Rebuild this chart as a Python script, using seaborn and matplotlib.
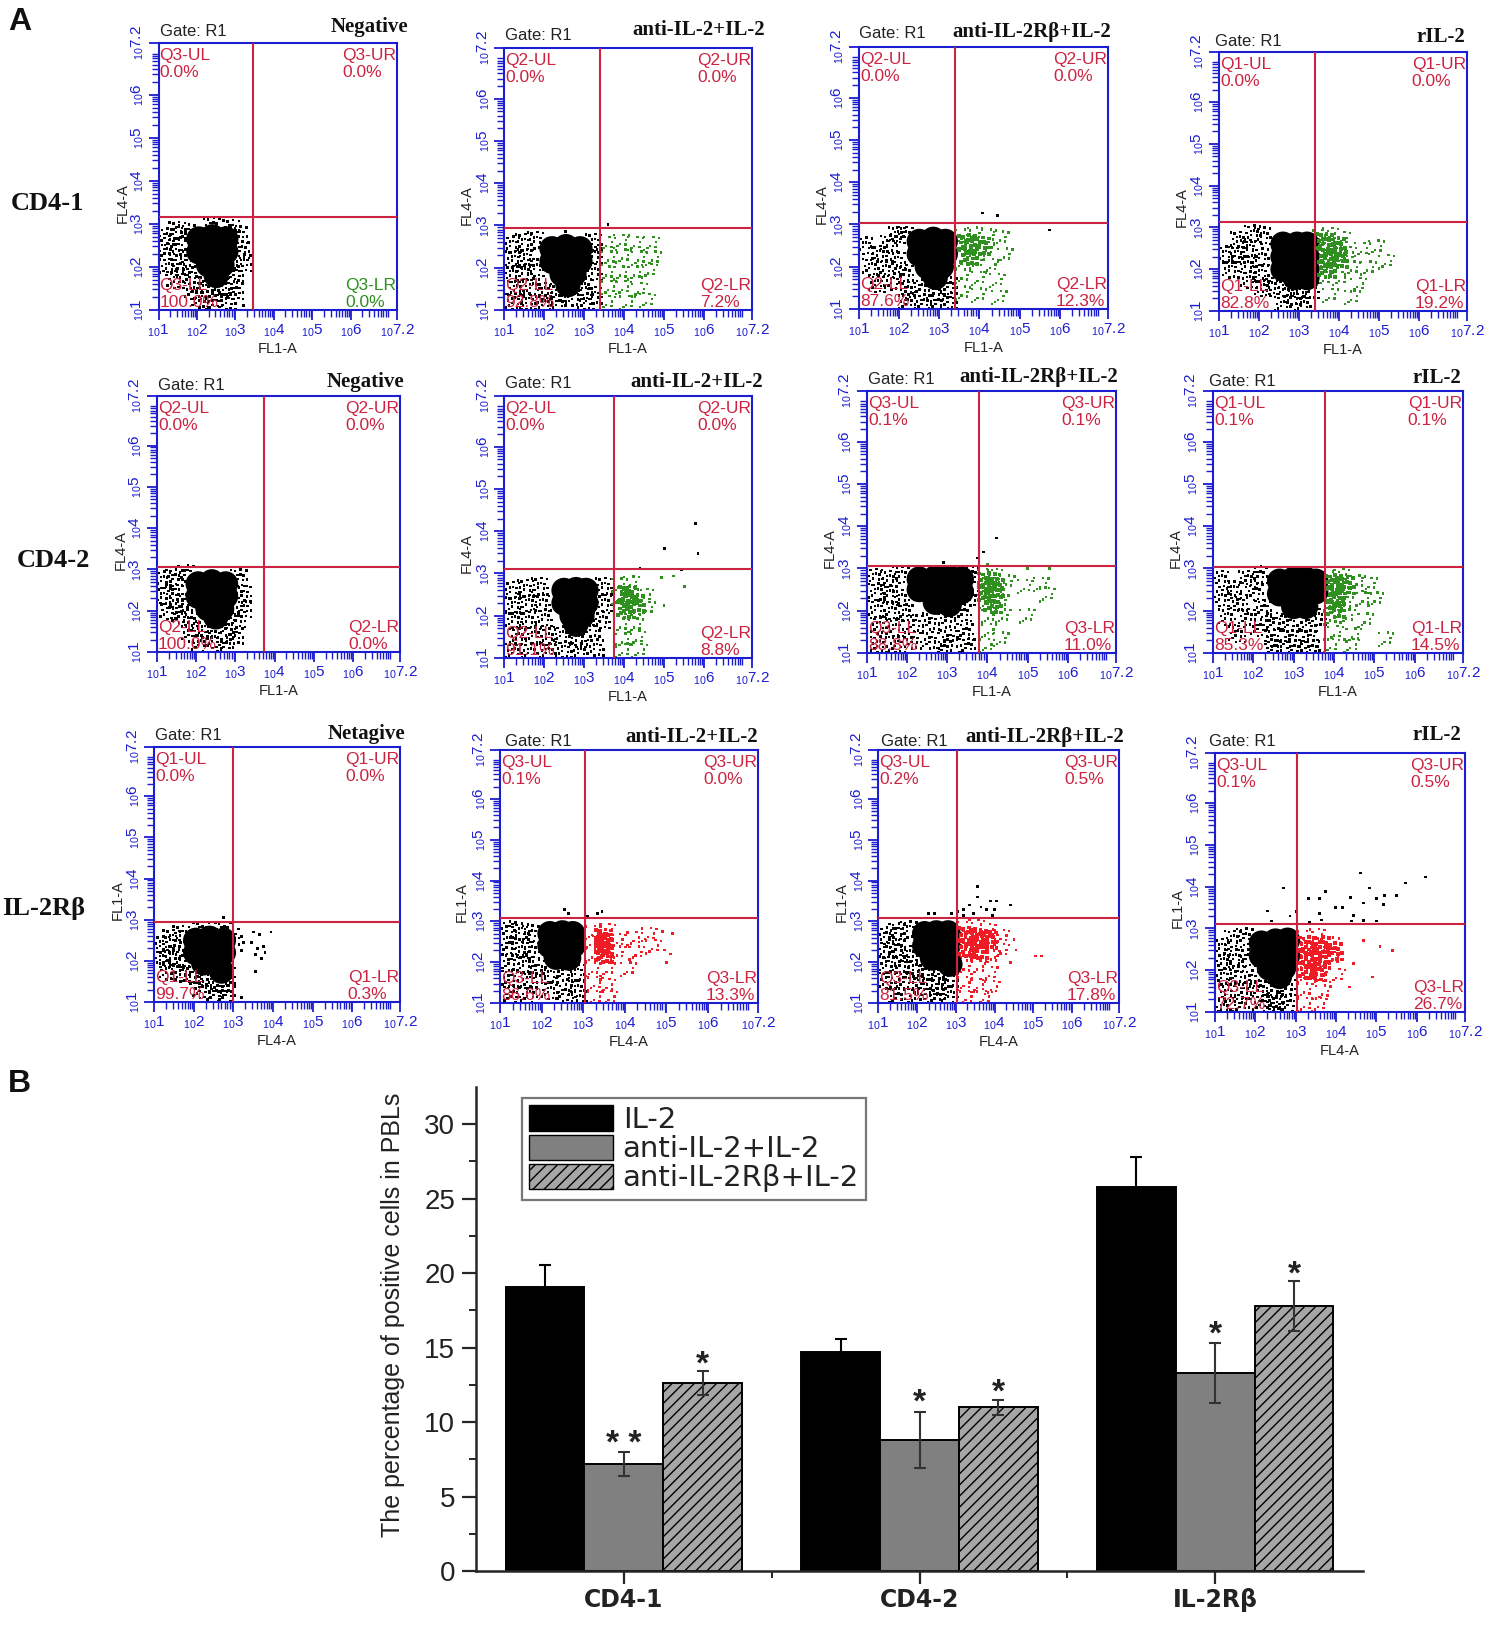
#!/usr/bin/env python3

import numpy as np
import pandas as pd
import matplotlib
matplotlib.use('Agg')
import matplotlib.pyplot as plt
import matplotlib.patches as mpatches
from matplotlib.path import Path
from matplotlib.ticker import FixedLocator, LogLocator, NullFormatter
import seaborn as sns

SET_DPI = 100
W, H = 1500, 1628

# bar chart values
GROUPS = ['CD4-1', 'CD4-2', 'IL-2Rβ']
TREATMENTS = ['IL-2', 'anti-IL-2+IL-2', 'anti-IL-2Rβ+IL-2']
IL2_VALS = [19.1, 14.7, 25.8]
ANTI_IL2_VALS = [7.2, 8.8, 13.3]
ANTI_RB_VALS = [12.6, 11.0, 17.8]
IL2_ERR = [1.45, 0.9, 2.0]
ANTI_IL2_ERR = [0.8, 1.9, 2.0]
ANTI_RB_ERR = [0.8, 0.5, 1.7]
STAR_TEXT = ['* *', '*', '*', '*', '*', '*']
STAR_Y = [8.97, 14.3, 11.7, 12.4, 16.3, 20.3]

# flow panels, row by row
TITLES = ['Negative', 'anti-IL-2+IL-2', 'anti-IL-2Rβ+IL-2', 'rIL-2'] * 2 + \
         ['Netagive', 'anti-IL-2+IL-2', 'anti-IL-2Rβ+IL-2', 'rIL-2']
QUADS = ['Q3', 'Q2', 'Q2', 'Q1', 'Q2', 'Q2', 'Q3', 'Q1', 'Q1', 'Q3', 'Q3', 'Q3']
PCT_UL = [0.0, 0.0, 0.0, 0.0, 0.0, 0.0, 0.1, 0.1, 0.0, 0.1, 0.2, 0.1]
PCT_UR = [0.0, 0.0, 0.0, 0.0, 0.0, 0.0, 0.1, 0.1, 0.0, 0.0, 0.5, 0.5]
PCT_LL = [100.0, 92.8, 87.6, 82.8, 100.0, 91.1, 88.8, 85.3, 99.7, 86.6, 81.5, 72.7]
PCT_LR = [0.0, 7.2, 12.3, 19.2, 0.0, 8.8, 11.0, 14.5, 0.3, 13.3, 17.8, 26.7]
GATE_X = [3.46, 3.41, 3.38, 3.40, 3.74, 3.75, 3.80, 3.78, 3.00, 3.04, 3.03, 3.03]
GATE_Y = [3.16, 2.95, 3.03, 3.13, 3.06, 3.10, 3.06, 3.03, 2.95, 3.08, 3.08, 3.10]

# event clouds, (log10 x, log10 y)
P11_CORE = [(2.05, 2.65), (2.4, 2.7), (2.75, 2.65), (2.05, 2.35), (2.4, 2.35), (2.75, 2.35), (2.3, 2.05), (2.65, 2.05), (2.5, 1.8)]
P11_FRINGE = [(1.2, 2.7), (1.5, 2.85), (1.75, 2.8), (1.2, 2.35), (1.5, 2.45), (1.75, 2.2), (1.25, 2.0), (1.55, 2.0), (1.45, 1.7), (1.85, 1.8), (3.1, 2.75), (2.9, 2.9), (2.4, 2.95), (3.15, 2.4), (3.2, 2.1), (3.0, 1.85), (2.2, 1.6), (2.8, 1.55), (2.45, 1.4), (3.0, 1.45), (2.1, 1.25), (2.45, 1.15), (2.8, 1.2), (1.9, 1.45)]
P11_LOOSE = [(3.2, 1.1)]

P12_CORE = [(2.2, 2.45), (2.55, 2.5), (2.9, 2.45), (2.2, 2.15), (2.55, 2.15), (2.9, 2.15), (2.45, 1.85), (2.75, 1.85), (2.6, 1.6)]
P12_FRINGE = [(1.2, 2.55), (1.5, 2.6), (1.8, 2.65), (1.25, 2.2), (1.55, 2.25), (1.8, 2.0), (1.2, 1.85), (1.5, 1.9), (1.3, 1.5), (1.7, 1.55), (1.25, 1.2), (1.6, 1.2), (2.0, 1.45), (2.0, 1.15), (2.35, 1.4), (2.35, 1.15), (2.75, 1.3), (3.0, 1.55), (3.25, 1.9), (3.25, 2.3), (3.25, 2.6), (3.05, 1.2), (3.25, 1.35)]
P12_GATED = [(3.6, 2.55), (3.95, 2.6), (4.3, 2.55), (4.7, 2.55), (3.65, 2.2), (4.0, 2.25), (4.4, 2.2), (4.75, 2.2), (3.6, 1.85), (3.95, 1.85), (4.3, 1.85), (4.65, 1.9), (3.65, 1.5), (4.0, 1.5), (4.4, 1.45), (3.6, 1.15), (4.1, 1.15), (4.6, 1.2)]
P12_LOOSE = [(3.6, 3.03), (2.54, 2.85)]

P13_CORE = [(2.5, 2.6), (2.85, 2.65), (3.15, 2.6), (2.5, 2.3), (2.85, 2.3), (3.15, 2.3), (2.7, 2.0), (3.05, 2.0), (2.9, 1.75)]
P13_FRINGE = [(1.15, 2.5), (1.5, 2.3), (1.75, 2.55), (1.95, 2.75), (1.3, 2.0), (1.65, 1.95), (1.95, 2.15), (1.45, 1.6), (1.85, 1.65), (2.15, 1.85), (2.2, 1.45), (2.55, 1.5), (2.9, 1.4), (3.25, 1.55), (2.2, 1.15), (2.6, 1.15), (2.95, 1.15), (3.25, 1.2), (2.15, 2.75)]
P13_GATED = [(3.6, 2.7), (3.9, 2.75), (4.25, 2.7), (3.55, 2.4), (3.85, 2.45), (4.2, 2.4), (4.55, 2.65), (4.65, 2.25), (3.6, 2.1), (3.95, 2.1), (4.3, 2.0), (3.6, 1.75), (4.0, 1.7), (4.45, 1.65), (3.6, 1.35), (4.0, 1.3), (4.5, 1.25)]
P13_GATED_CORE = [(3.7, 2.55), (4.05, 2.5), (3.75, 2.25)]
P13_LOOSE = [(4.08, 3.27), (4.45, 3.22), (5.74, 2.87)]

P14_CORE = [(2.6, 2.6), (2.95, 2.6), (3.2, 2.6), (2.6, 2.3), (2.95, 2.3), (3.2, 2.3), (2.6, 2.0), (2.95, 2.0), (3.2, 2.0), (2.9, 1.8), (3.2, 1.8)]
P14_FRINGE = [(1.15, 2.35), (1.5, 2.7), (1.85, 2.85), (1.45, 2.35), (1.75, 2.5), (2.1, 2.8), (1.3, 2.0), (1.7, 2.1), (2.05, 2.3), (1.75, 1.75), (2.05, 1.9), (2.3, 1.6), (2.65, 1.55), (3.0, 1.5), (3.3, 1.5), (2.1, 1.55), (2.6, 1.15), (3.1, 1.15), (2.85, 1.35)]
P14_GATED = [(3.55, 2.75), (3.8, 2.8), (4.1, 2.7), (3.55, 2.4), (3.85, 2.45), (3.6, 2.1), (3.9, 2.15), (4.25, 2.35), (4.6, 2.45), (4.95, 2.5), (4.35, 2.0), (4.75, 2.0), (3.65, 1.75), (4.05, 1.75), (4.5, 1.6), (3.8, 1.35), (4.35, 1.3), (5.2, 2.15)]
P14_GATED_CORE = [(3.65, 2.65), (3.95, 2.55), (3.7, 2.3), (4.0, 2.25), (3.7, 2.0)]

P21_CORE = [(2.05, 2.65), (2.4, 2.7), (2.75, 2.65), (2.05, 2.35), (2.4, 2.35), (2.75, 2.35), (2.3, 2.05), (2.65, 2.05), (2.5, 1.85)]
P21_FRINGE = [(1.15, 2.75), (1.45, 2.8), (1.75, 2.9), (1.15, 2.35), (1.45, 2.45), (1.7, 2.2), (1.3, 2.0), (1.6, 1.9), (1.85, 1.75), (3.1, 2.8), (3.2, 2.4), (3.2, 2.05), (3.05, 1.8), (2.2, 1.55), (2.8, 1.6), (2.45, 1.3), (3.0, 1.4), (2.1, 1.2), (2.75, 1.15), (1.85, 1.45)]

P22_CORE = [(2.5, 2.6), (2.8, 2.62), (3.05, 2.6), (2.5, 2.3), (2.8, 2.3), (3.05, 2.3), (2.7, 2.0), (2.95, 2.0), (2.8, 1.8)]
P22_FRINGE = [(1.2, 2.6), (1.55, 2.65), (1.9, 2.7), (1.25, 2.25), (1.6, 2.3), (1.95, 2.3), (1.25, 1.9), (1.6, 1.9), (2.0, 1.95), (1.35, 1.5), (1.75, 1.55), (1.25, 1.15), (1.65, 1.15), (2.1, 1.5), (2.1, 1.15), (2.45, 1.55), (2.5, 1.2), (2.85, 1.45), (2.9, 1.15), (3.2, 1.7), (3.3, 1.25), (3.45, 1.9), (3.5, 2.3), (3.5, 2.7)]
P22_GATED = [(3.9, 2.7), (4.2, 2.75), (3.9, 2.4), (4.25, 2.45), (4.55, 2.45), (3.95, 2.1), (4.3, 2.1), (4.6, 2.15), (3.95, 1.75), (4.3, 1.75), (4.0, 1.4), (4.35, 1.45), (4.0, 1.15), (4.4, 1.15)]
P22_GATED_CORE = [(4.1, 2.5), (4.3, 2.3), (4.05, 2.15)]
P22_LOOSE = [(5.78, 4.18), (5.01, 3.6), (5.85, 3.48), (5.44, 3.1), (4.4, 3.12)]
P22_LOOSE_GATED = [(4.94, 2.91), (5.24, 2.94), (5.51, 2.69), (5.0, 2.25)]

P23_CORE = [(2.3, 2.75), (2.7, 2.78), (3.05, 2.78), (3.35, 2.75), (2.3, 2.5), (2.7, 2.45), (3.05, 2.45), (3.35, 2.45), (2.7, 2.2), (3.05, 2.15)]
P23_FRINGE = [(1.2, 2.8), (1.55, 2.75), (1.85, 2.85), (1.25, 2.45), (1.55, 2.4), (1.85, 2.3), (1.25, 2.05), (1.6, 2.0), (1.95, 1.95), (1.3, 1.65), (1.7, 1.6), (2.2, 1.7), (2.6, 1.75), (3.0, 1.8), (3.4, 1.95), (3.6, 2.3), (3.6, 2.85), (1.3, 1.2), (1.75, 1.2), (2.15, 1.3), (2.6, 1.3), (3.05, 1.35), (3.45, 1.5), (3.5, 1.15), (2.9, 1.1)]
P23_GATED = [(3.95, 2.8), (4.2, 2.8), (3.95, 2.5), (4.25, 2.5), (4.5, 2.65), (4.0, 2.2), (4.35, 2.2), (4.95, 2.55), (5.35, 2.6), (5.5, 2.35), (4.05, 1.85), (4.4, 1.85), (4.05, 1.5), (4.35, 1.3), (4.0, 1.15), (5.0, 1.85)]
P23_GATED_CORE = [(4.0, 2.7), (4.2, 2.55), (4.0, 2.4), (4.15, 2.15)]
P23_LOOSE = [(4.23, 3.72), (3.9, 3.39), (3.75, 3.25), (2.9, 3.15)]
P23_LOOSE_GATED = [(5.0, 3.0), (5.55, 3.0), (4.0, 3.1)]

P24_CORE = [(2.65, 2.7), (3.0, 2.75), (3.3, 2.75), (3.55, 2.7), (2.65, 2.4), (3.0, 2.4), (3.3, 2.4), (3.55, 2.45), (3.0, 2.1), (3.3, 2.1)]
P24_FRINGE = [(1.2, 2.75), (1.5, 2.5), (1.85, 2.75), (2.15, 2.85), (1.2, 2.3), (1.65, 2.2), (2.05, 2.45), (1.35, 1.85), (1.85, 1.85), (2.25, 2.05), (1.6, 1.45), (2.15, 1.6), (2.55, 1.75), (2.9, 1.7), (3.35, 1.7), (3.6, 1.85), (2.5, 1.35), (2.95, 1.35), (3.4, 1.35), (2.5, 1.1), (3.0, 1.1), (3.45, 1.1)]
P24_GATED = [(3.95, 2.75), (4.2, 2.8), (3.95, 2.45), (4.25, 2.5), (4.6, 2.65), (4.9, 2.6), (3.95, 2.15), (4.3, 2.15), (4.75, 2.25), (5.05, 2.25), (3.95, 1.8), (4.35, 1.85), (4.8, 1.75), (4.05, 1.45), (4.5, 1.4), (3.95, 1.15), (4.45, 1.15), (5.3, 1.3)]
P24_GATED_CORE = [(4.0, 2.65), (4.3, 2.6), (4.05, 2.35), (4.05, 2.05)]

P31_CORE = [(2.05, 2.5), (2.4, 2.55), (2.75, 2.5), (2.05, 2.2), (2.4, 2.2), (2.75, 2.2), (2.25, 1.95), (2.6, 1.9), (2.7, 1.75)]
P31_FRINGE = [(1.2, 2.4), (1.45, 2.55), (1.7, 2.65), (1.2, 2.05), (1.45, 2.1), (1.7, 2.05), (1.35, 1.75), (1.7, 1.7), (1.95, 1.65), (2.25, 1.6), (2.65, 1.45), (2.85, 1.65), (2.2, 1.3), (2.55, 1.2), (2.85, 1.2), (2.2, 2.75), (2.75, 2.75), (2.95, 2.6)]
P31_LOOSE = [(3.2, 2.6), (3.25, 2.45), (3.2, 2.25), (3.5, 2.7), (3.65, 2.65), (3.95, 2.7), (3.45, 2.45), (3.6, 2.3), (3.75, 2.35), (3.55, 2.15), (3.7, 2.05), (3.8, 2.2), (3.55, 1.75), (3.2, 1.1), (2.75, 3.05)]

P32_CORE = [(2.2, 2.7), (2.5, 2.72), (2.75, 2.7), (2.2, 2.4), (2.5, 2.4), (2.75, 2.4), (2.35, 2.12), (2.65, 2.1)]
P32_FRINGE = [(1.2, 2.8), (1.5, 2.75), (1.75, 2.7), (1.2, 2.4), (1.5, 2.3), (1.75, 2.3), (1.25, 2.0), (1.6, 1.95), (1.9, 1.85), (1.25, 1.6), (1.7, 1.55), (1.3, 1.2), (1.7, 1.2), (2.2, 1.7), (2.55, 1.75), (2.85, 1.75), (2.2, 1.3), (2.55, 1.25), (2.85, 1.35), (2.9, 1.1)]
P32_GATED = [(3.25, 2.7), (3.6, 2.75), (3.2, 2.45), (3.55, 2.5), (3.85, 2.5), (3.25, 2.15), (3.55, 2.2), (3.85, 2.2), (4.25, 2.55), (4.6, 2.65), (4.3, 2.2), (4.7, 2.35), (3.25, 1.8), (3.6, 1.8), (4.1, 1.8), (3.3, 1.45), (3.6, 1.4), (3.3, 1.1), (3.65, 1.1)]
P32_GATED_CORE = [(3.5, 2.6), (3.5, 2.4), (3.5, 2.2)]
P32_LOOSE = [(2.55, 3.3), (2.65, 3.2), (3.35, 3.2), (3.45, 3.25), (3.1, 3.12)]
P32_LOOSE_GATED = [(4.9, 2.75), (5.15, 2.7), (4.95, 2.3), (5.1, 2.2), (5.0, 2.0)]

P33_CORE = [(2.2, 2.7), (2.5, 2.72), (2.8, 2.72), (2.2, 2.4), (2.5, 2.4), (2.8, 2.4), (2.4, 2.1), (2.75, 2.1), (2.85, 1.95)]
P33_FRINGE = [(1.2, 2.65), (1.5, 2.75), (1.8, 2.8), (1.2, 2.3), (1.5, 2.35), (1.8, 2.2), (1.25, 1.95), (1.6, 1.95), (1.95, 1.85), (1.25, 1.55), (1.7, 1.55), (2.2, 1.75), (2.6, 1.75), (2.85, 1.6), (2.15, 1.4), (2.55, 1.4), (1.5, 1.15), (2.0, 1.15), (2.5, 1.15), (2.85, 1.2)]
P33_GATED = [(3.25, 2.8), (3.55, 2.85), (3.85, 2.75), (3.25, 2.5), (3.6, 2.55), (3.9, 2.5), (4.2, 2.6), (3.25, 2.2), (3.6, 2.2), (3.95, 2.1), (4.2, 2.25), (3.25, 1.85), (3.6, 1.85), (3.9, 1.7), (3.25, 1.45), (3.6, 1.4), (3.95, 1.35), (3.3, 1.1), (3.75, 1.1)]
P33_GATED_CORE = [(3.3, 2.65), (3.6, 2.6), (3.85, 2.55), (3.3, 2.35), (3.6, 2.3)]
P33_LOOSE = [(2.3, 3.2), (2.45, 3.2), (2.9, 3.2), (3.05, 3.25), (3.2, 3.3), (3.35, 3.4), (3.45, 3.2), (3.55, 3.6), (3.65, 3.35), (3.8, 3.3), (3.9, 3.5), (4.05, 3.5), (4.0, 3.3), (4.4, 3.4), (3.55, 3.85), (3.2, 3.15), (3.95, 3.15)]
P33_LOOSE_GATED = [(4.5, 2.55), (4.55, 2.3), (5.05, 2.15), (5.2, 2.15), (4.4, 2.0)]

P34_CORE = [(2.15, 2.65), (2.5, 2.7), (2.8, 2.72), (2.15, 2.35), (2.5, 2.35), (2.8, 2.35), (2.35, 2.05), (2.7, 2.05), (2.6, 1.85)]
P34_FRINGE = [(1.15, 2.55), (1.45, 2.75), (1.75, 2.8), (1.2, 2.2), (1.5, 2.3), (1.8, 2.3), (1.2, 1.85), (1.55, 1.9), (1.9, 1.8), (1.3, 1.45), (1.7, 1.5), (2.1, 1.55), (2.45, 1.55), (2.8, 1.6), (1.2, 1.1), (1.65, 1.15), (2.15, 1.2), (2.5, 1.25), (2.85, 1.2), (2.5, 1.05)]
P34_GATED = [(3.25, 2.75), (3.55, 2.8), (3.9, 2.6), (3.25, 2.45), (3.6, 2.5), (3.95, 2.25), (3.25, 2.15), (3.6, 2.15), (3.25, 1.85), (3.6, 1.8), (4.05, 1.85), (3.25, 1.5), (3.7, 1.45), (3.25, 1.15), (3.6, 1.15)]
P34_GATED_CORE = [(3.3, 2.6), (3.65, 2.6), (3.95, 2.45), (3.3, 2.3), (3.65, 2.25), (3.3, 2.0), (3.55, 1.95)]
P34_LOOSE = [(4.61, 4.33), (6.22, 4.23), (5.72, 4.09), (2.69, 3.97), (3.74, 3.89), (3.31, 3.71), (3.6, 3.71), (4.36, 3.75), (4.84, 3.97), (5.2, 3.79), (5.51, 3.79), (5.0, 3.71), (4.68, 3.61), (5.17, 3.58), (3.99, 3.5), (4.16, 3.5), (2.3, 3.42), (3.03, 3.4), (3.6, 3.35), (4.44, 3.31), (4.68, 3.19), (5.0, 3.18), (4.38, 3.18), (3.65, 3.2), (2.4, 3.18), (2.86, 3.3), (3.35, 3.15)]
P34_LOOSE_GATED = [(4.68, 2.71), (5.09, 2.57), (5.41, 2.47), (4.9, 1.84), (4.33, 1.6), (4.44, 2.16)]

CORES = [P11_CORE, P12_CORE, P13_CORE, P14_CORE, P21_CORE, P22_CORE, P23_CORE, P24_CORE, P31_CORE, P32_CORE, P33_CORE, P34_CORE]
FRINGES = [P11_FRINGE, P12_FRINGE, P13_FRINGE, P14_FRINGE, P21_FRINGE, P22_FRINGE, P23_FRINGE, P24_FRINGE, P31_FRINGE, P32_FRINGE, P33_FRINGE, P34_FRINGE]
GATED = [[], P12_GATED, P13_GATED, P14_GATED, [], P22_GATED, P23_GATED, P24_GATED, [], P32_GATED, P33_GATED, P34_GATED]
GATED_CORES = [[], [], P13_GATED_CORE, P14_GATED_CORE, [], P22_GATED_CORE, P23_GATED_CORE, P24_GATED_CORE, [], P32_GATED_CORE, P33_GATED_CORE, P34_GATED_CORE]
LOOSE = [P11_LOOSE, P12_LOOSE, P13_LOOSE, [], [], P22_LOOSE, P23_LOOSE, [], P31_LOOSE, P32_LOOSE, P33_LOOSE, P34_LOOSE]
LOOSE_GATED = [[], [], [], [], [], P22_LOOSE_GATED, P23_LOOSE_GATED, [], [], P32_LOOSE_GATED, P33_LOOSE_GATED, P34_LOOSE_GATED]

# layout in reference pixels: left, right, top, bottom
PANEL_BOX = [(158.5, 397, 43, 310), (504, 752, 48, 310), (859, 1108, 47, 309), (1219, 1467, 52, 311),
             (157, 400, 396, 652), (504, 752, 396, 658), (867, 1116, 391, 653), (1213, 1463, 391, 653),
             (154, 400, 747, 1002), (500, 758, 750, 1003), (878, 1119, 750, 1003), (1215, 1465, 753, 1012)]
TITLE_POS = [(408, 27), (765, 30), (1111, 32), (1465, 37),
             (404, 382), (763, 382), (1118, 377), (1461, 378),
             (405, 734), (758, 737), (1124, 737), (1461, 735)]
GATE_POS = [(160, 31), (505, 36), (859, 34), (1215, 42),
            (158, 385), (505, 384), (868, 379), (1209, 381),
            (155, 735), (505, 741), (881, 741), (1209, 741)]

BLUE = '#1c1cd0'
QUAD_RED = '#cb2340'
GREEN = '#2f8f1f'
RED = '#f01c25'
SERIF = 'Liberation Serif'
SANS = 'Liberation Sans'

# one stamp stands for a little group of events in the thin part of a cloud
SPECK_DOTS = [(-0.85, -0.6), (-0.45, 0.7), (-0.2, -0.15), (-0.65, 0.1), (0.15, 0.85),
              (0.3, -0.75), (0.45, 0.25), (0.8, -0.2), (0.75, 0.75), (-0.15, -0.85),
              (-0.85, 0.8), (0.1, 0.35), (-0.5, -0.4), (0.8, -0.85), (0.4, -0.25), (-0.2, 0.3)]


def make_speck(dots, half=0.13):
    parts = []
    for dx, dy in dots:
        parts.append(Path([(dx - half, dy - half), (dx + half, dy - half), (dx + half, dy + half),
                           (dx - half, dy + half), (dx - half, dy - half)], closed=True))
    parts.append(Path([(-1, -1), (-1, -1)]))
    parts.append(Path([(1, 1), (1, 1)]))
    return Path.make_compound_path(*parts)


SPECK = make_speck(SPECK_DOTS)
SPECK_THIN = make_speck(SPECK_DOTS[::2])
SPECK_DENSE = make_speck(SPECK_DOTS, half=0.2)


def box_to_rect(box):
    left, right, top, bottom = box
    return [left / W, 1 - bottom / H, (right - left) / W, (bottom - top) / H]


def scatter(ax, points, color, size, marker='o'):
    if not points:
        return
    pts = np.array(points)
    sns.scatterplot(x=10 ** pts[:, 0], y=10 ** pts[:, 1], ax=ax, color=color, s=size,
                    marker=marker, linewidth=0, edgecolor='none', legend=False, zorder=2)


def decade_label(exp):
    return r'$\mathregular{_{10}' + exp + '}$'


def flow_panel(fig, i):
    ax = fig.add_axes(box_to_rect(PANEL_BOX[i]))
    ax.set_xscale('log')
    ax.set_yscale('log')
    gated_colour = GREEN if i < 8 else RED

    scatter(ax, FRINGES[i], 'black', 190, SPECK)
    scatter(ax, GATED[i], gated_colour, 170, SPECK_THIN)
    scatter(ax, CORES[i], 'black', 330)
    scatter(ax, GATED_CORES[i], gated_colour, 210, SPECK_DENSE)
    scatter(ax, LOOSE[i], 'black', 4, 's')
    scatter(ax, LOOSE_GATED[i], gated_colour, 4, 's')

    ax.axvline(10 ** GATE_X[i], color=QUAD_RED, lw=1.5, zorder=3)
    ax.axhline(10 ** GATE_Y[i], color=QUAD_RED, lw=1.5, zorder=3)

    ax.set_xlim(10, 10 ** 7.2)
    ax.set_ylim(10, 10 ** 7.2)
    exps = [1, 2, 3, 4, 5, 6, 7.2]
    labels = [decade_label(str(e)) for e in exps]
    for axis in (ax.xaxis, ax.yaxis):
        axis.set_major_locator(FixedLocator([10.0 ** e for e in exps]))
        axis.set_minor_locator(LogLocator(base=10, subs=range(2, 10), numticks=20))
        axis.set_minor_formatter(NullFormatter())
    ax.set_xticklabels(labels, fontsize=11, color=BLUE)
    ax.set_yticklabels(labels, fontsize=11, color=BLUE, rotation=90, va='center')
    ax.tick_params(which='major', length=7, width=1.3, color=BLUE, pad=2)
    ax.tick_params(which='minor', length=5, width=1, color=BLUE)
    for spine in ax.spines.values():
        spine.set_visible(True)
        spine.set_color(BLUE)
        spine.set_linewidth(1.5)

    xlab, ylab = ('FL4-A', 'FL1-A') if i >= 8 else ('FL1-A', 'FL4-A')
    ax.set_xlabel(xlab, fontsize=10.5, family=SANS, color='#222222', labelpad=2)
    ax.set_ylabel(ylab, fontsize=10.5, family=SANS, color='#222222', labelpad=2)
    ax.yaxis.set_label_coords(-0.12, 0.4)

    # quadrant stats
    quad = QUADS[i]
    lr_colour = GREEN if i == 0 else QUAD_RED
    txt = [(f'{quad}-UL\n{PCT_UL[i]:.1f}%', (0, 1), (1, -5), 'left', 'top', QUAD_RED),
           (f'{quad}-UR\n{PCT_UR[i]:.1f}%', (1, 1), (-1, -5), 'right', 'top', QUAD_RED),
           (f'{quad}-LL\n{PCT_LL[i]:.1f}%', (0, 0), (1, 0), 'left', 'bottom', QUAD_RED),
           (f'{quad}-LR\n{PCT_LR[i]:.1f}%', (1, 0), (-1, 0), 'right', 'bottom', lr_colour)]
    for label, xy, off, ha, va, col in txt:
        ax.annotate(label, xy=xy, xycoords='axes fraction', xytext=off, textcoords='offset pixels',
                    ha=ha, va=va, multialignment='left', color=col, fontsize=12.5, family=SANS,
                    linespacing=1.2, zorder=5)

    tx, ty = TITLE_POS[i]
    fig.text(tx / W, 1 - ty / H, TITLES[i], ha='right', va='center', fontsize=15,
             family=SERIF, fontweight='bold', color='#111111')
    gx, gy = GATE_POS[i]
    fig.text(gx / W, 1 - gy / H, 'Gate: R1', ha='left', va='center', fontsize=12,
             family=SANS, color='#222222')


def bar_panel(fig):
    ax = fig.add_axes(box_to_rect((476, 1363, 1087, 1571)))
    data = pd.DataFrame({'group': GROUPS * 3,
                         'treatment': np.repeat(TREATMENTS, 3),
                         'value': IL2_VALS + ANTI_IL2_VALS + ANTI_RB_VALS})
    colours = ['black', '#808080', '#a6a6a6']
    sns.barplot(data=data, x='group', y='value', hue='treatment', hue_order=TREATMENTS,
                palette=colours, saturation=1, errorbar=None, legend=False,
                edgecolor='black', linewidth=1.4, ax=ax)

    for bar in ax.containers[2]:
        bar.set_hatch('///')

    centres = []
    for cont, err, ecol in zip(ax.containers, (IL2_ERR, ANTI_IL2_ERR, ANTI_RB_ERR), ('#000000', '#333333', '#333333')):
        xs = [b.get_x() + b.get_width() / 2 for b in cont]
        ys = [b.get_height() for b in cont]
        ax.errorbar(xs, ys, yerr=err, fmt='none', ecolor=ecol, elinewidth=1.5, capsize=4, capthick=1.5)
        centres.append(xs)

    star_x = [centres[1][0], centres[2][0], centres[1][1], centres[2][1], centres[1][2], centres[2][2]]
    for x, y, s in zip(star_x, STAR_Y, STAR_TEXT):
        ax.text(x, y - 0.45, s, ha='center', va='center', fontsize=24, family=SANS,
                fontweight='bold', color='#222222')

    ax.set_xlim(-0.5, 2.5)
    ax.set_ylim(0, 32.5)
    ax.set_xlabel('')
    ax.set_ylabel('The percentage of positive cells in PBLs', fontsize=18, family=SANS,
                  color='#222222', labelpad=4)
    ax.yaxis.set_label_coords(-0.08, 0.53)
    ax.set_yticks(range(0, 31, 5))
    ax.set_yticks(np.arange(2.5, 32.5, 5), minor=True)
    ax.set_xticks([0.5, 1.5], minor=True)
    ax.tick_params(axis='y', which='major', length=10, width=1.6, labelsize=20, labelcolor='#222222', pad=5)
    ax.tick_params(axis='y', which='minor', length=5, width=1.4)
    ax.tick_params(axis='x', which='major', length=9, width=1.6, pad=3)
    ax.tick_params(axis='x', which='minor', length=5, width=1.4)
    for lab in ax.get_yticklabels():
        lab.set_family(SANS)
    for lab in ax.get_xticklabels():
        lab.set_family('DejaVu Sans')
        lab.set_fontweight('bold')
        lab.set_fontsize(17)
        lab.set_color('#222222')
    ax.spines['top'].set_visible(False)
    ax.spines['right'].set_visible(False)
    ax.spines['left'].set_linewidth(1.8)
    ax.spines['bottom'].set_linewidth(1.8)

    handles = [mpatches.Patch(facecolor=colours[0], edgecolor='black', label=TREATMENTS[0]),
               mpatches.Patch(facecolor=colours[1], edgecolor='black', label=TREATMENTS[1]),
               mpatches.Patch(facecolor=colours[2], edgecolor='black', hatch='///', label=TREATMENTS[2])]
    leg = ax.legend(handles=handles, loc='upper left', bbox_to_anchor=(0.052, 0.977), borderaxespad=0,
                    prop={'family': 'DejaVu Sans', 'size': 21}, handlelength=2.85, handleheight=0.95,
                    handletextpad=0.35, labelspacing=0.02, borderpad=0.25, fancybox=False,
                    framealpha=1, edgecolor='#777777')
    leg.get_frame().set_linewidth(1.6)
    for t in leg.get_texts():
        t.set_color('#222222')


if __name__ == '__main__':
    sns.set_theme(style='ticks')
    plt.rcParams['font.family'] = [SANS, 'DejaVu Sans']
    plt.rcParams['hatch.linewidth'] = 1.0
    plt.rcParams['mathtext.fontset'] = 'custom'
    plt.rcParams['mathtext.rm'] = SANS

    fig = plt.figure(figsize=(W / SET_DPI, H / SET_DPI), dpi=SET_DPI)
    for i in range(12):
        flow_panel(fig, i)
    bar_panel(fig)

    for label, x, y in (('CD4-1', 11, 204), ('CD4-2', 17, 561), ('IL-2Rβ', 2, 908)):
        fig.text(x / W, 1 - y / H, label, ha='left', va='center', fontsize=19,
                 family=SERIF, fontweight='bold', color='#111111')
    fig.text(8 / W, 1 - 22 / H, 'A', ha='left', va='center', fontsize=23, fontweight='bold', color='#111111')
    fig.text(8 / W, 1 - 1084 / H, 'B', ha='left', va='center', fontsize=23, fontweight='bold', color='#111111')

    fig.savefig('out.png', dpi=SET_DPI)
    plt.close('all')
